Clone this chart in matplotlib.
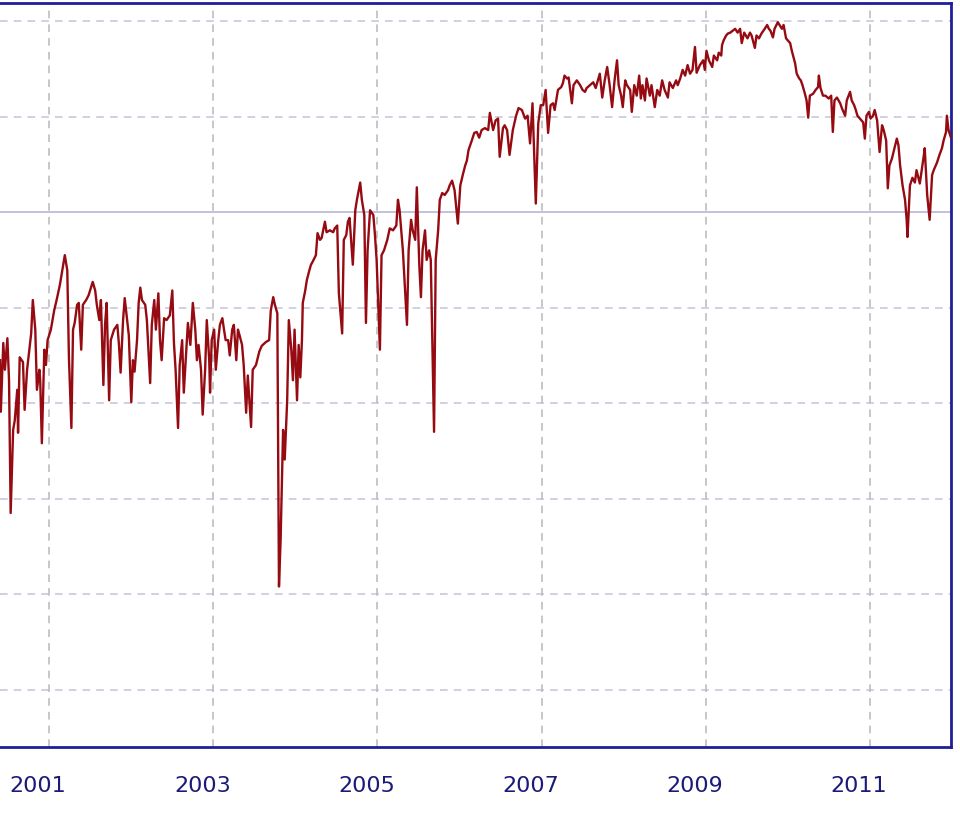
import matplotlib
matplotlib.use("Agg")
import matplotlib.pyplot as plt
import matplotlib.transforms as mtransforms

# weekly readings, decimal year -> index value (gridlines every 10 units)
years = [
    2000.40, 2000.41, 2000.44, 2000.46, 2000.49, 2000.51, 2000.53, 2000.56, 2000.58, 2000.61,
    2000.62, 2000.64, 2000.68, 2000.70, 2000.73, 2000.75, 2000.78, 2000.80, 2000.83, 2000.85,
    2000.88, 2000.89, 2000.91, 2000.94, 2000.96, 2000.98, 2001.02, 2001.06, 2001.09, 2001.13,
    2001.17, 2001.19, 2001.22, 2001.24, 2001.27, 2001.29, 2001.31, 2001.34, 2001.36, 2001.39,
    2001.41, 2001.45, 2001.48, 2001.53, 2001.56, 2001.58, 2001.61, 2001.63, 2001.66, 2001.68,
    2001.70, 2001.73, 2001.75, 2001.79, 2001.83, 2001.85, 2001.87, 2001.90, 2001.92, 2001.95,
    2001.97, 2002.00, 2002.02, 2002.04, 2002.07, 2002.09, 2002.11, 2002.13, 2002.17, 2002.19,
    2002.23, 2002.25, 2002.28, 2002.30, 2002.33,
    2002.35, 2002.37, 2002.40, 2002.43, 2002.47, 2002.50, 2002.52, 2002.54, 2002.57, 2002.59,
    2002.62, 2002.64, 2002.67, 2002.69, 2002.72, 2002.75, 2002.78, 2002.80, 2002.82, 2002.85,
    2002.87, 2002.90, 2002.92, 2002.95, 2002.96, 2002.98, 2003.01, 2003.03, 2003.06, 2003.08,
    2003.11, 2003.13, 2003.15, 2003.18, 2003.20, 2003.23, 2003.25, 2003.28, 2003.30, 2003.32,
    2003.35, 2003.37, 2003.40, 2003.42, 2003.46, 2003.48, 2003.52, 2003.56, 2003.59, 2003.64,
    2003.68, 2003.70, 2003.73, 2003.75, 2003.78, 2003.80, 2003.82, 2003.85, 2003.87, 2003.90,
    2003.92, 2003.95, 2003.97, 2003.99, 2004.02, 2004.04,
    2004.06, 2004.08, 2004.09, 2004.12, 2004.14, 2004.17, 2004.19, 2004.21, 2004.25, 2004.27,
    2004.30, 2004.32, 2004.36, 2004.38, 2004.42, 2004.46, 2004.48, 2004.51, 2004.53, 2004.57,
    2004.59, 2004.62, 2004.64, 2004.66, 2004.70, 2004.73, 2004.75, 2004.79, 2004.81, 2004.84,
    2004.86, 2004.88, 2004.91, 2004.95, 2004.97, 2004.99, 2005.03, 2005.05, 2005.08, 2005.12,
    2005.15, 2005.19, 2005.23, 2005.25, 2005.27, 2005.31, 2005.33, 2005.36, 2005.38, 2005.41,
    2005.43, 2005.46, 2005.48, 2005.51, 2005.53, 2005.55, 2005.58, 2005.60, 2005.63, 2005.65,
    2005.69, 2005.71, 2005.74, 2005.76, 2005.79, 2005.82, 2005.86, 2005.88, 2005.91, 2005.94,
    2005.98, 2006.01, 2006.04, 2006.07,
    2006.09, 2006.11, 2006.15, 2006.18, 2006.21, 2006.24, 2006.27, 2006.31, 2006.35, 2006.37,
    2006.41, 2006.44, 2006.47, 2006.49, 2006.53, 2006.55, 2006.58, 2006.61, 2006.65, 2006.69,
    2006.72, 2006.76, 2006.80, 2006.83, 2006.86, 2006.89, 2006.93, 2006.96, 2006.99, 2007.02,
    2007.05, 2007.08, 2007.11, 2007.14, 2007.16, 2007.20, 2007.24, 2007.26, 2007.28, 2007.31,
    2007.33, 2007.37, 2007.39, 2007.43, 2007.47, 2007.50, 2007.53, 2007.55, 2007.59, 2007.63,
    2007.66, 2007.71, 2007.74, 2007.77, 2007.80, 2007.83, 2007.86, 2007.89, 2007.92, 2007.94,
    2007.97, 2007.99, 2008.02, 2008.04, 2008.08, 2008.10, 2008.13, 2008.16, 2008.19, 2008.21,
    2008.23,
    2008.26, 2008.28, 2008.32, 2008.34, 2008.38, 2008.41, 2008.44, 2008.47, 2008.50, 2008.54,
    2008.56, 2008.60, 2008.64, 2008.66, 2008.69, 2008.72, 2008.75, 2008.78, 2008.81, 2008.84,
    2008.87, 2008.89, 2008.93, 2008.97, 2008.99, 2009.01, 2009.04, 2009.08, 2009.10, 2009.14,
    2009.16, 2009.19, 2009.20, 2009.22, 2009.25, 2009.27, 2009.30, 2009.33, 2009.36, 2009.39,
    2009.42, 2009.44, 2009.47, 2009.49, 2009.51, 2009.54, 2009.56, 2009.60, 2009.62, 2009.65,
    2009.68, 2009.72, 2009.75, 2009.77, 2009.79, 2009.82, 2009.84, 2009.88, 2009.90, 2009.93,
    2009.95, 2009.98, 2010.00, 2010.03, 2010.05, 2010.09, 2010.11, 2010.14, 2010.16, 2010.18,
    2010.21, 2010.23, 2010.25, 2010.27, 2010.31, 2010.34, 2010.37,
    2010.38, 2010.40, 2010.43, 2010.46, 2010.50, 2010.53, 2010.55, 2010.57, 2010.60, 2010.64,
    2010.66, 2010.70, 2010.72, 2010.76, 2010.78, 2010.81, 2010.83, 2010.85, 2010.88, 2010.92,
    2010.94, 2010.96, 2010.99, 2011.01, 2011.04, 2011.06, 2011.09, 2011.12, 2011.15, 2011.17,
    2011.20, 2011.22, 2011.24, 2011.27, 2011.31, 2011.33, 2011.35, 2011.37, 2011.40, 2011.43,
    2011.45, 2011.46, 2011.49, 2011.52, 2011.55, 2011.57, 2011.61, 2011.63, 2011.66, 2011.67,
    2011.70, 2011.73, 2011.76, 2011.78, 2011.82, 2011.85, 2011.88, 2011.90, 2011.93, 2011.94,
    2011.96, 2011.99,
]

values = [
    44.5, 39.1, 46.3, 43.5, 46.8, 42.4, 28.5, 37.2, 38.2, 41.4,
    36.9, 44.8, 44.3, 39.3, 43.5, 45.0, 47.3, 50.8, 47.7, 41.4,
    43.5, 42.4, 35.8, 45.6, 44.0, 46.6, 47.7, 49.7, 50.8, 52.4,
    54.5, 55.5, 53.9, 44.8, 37.4, 47.7, 48.4, 50.3, 50.5, 45.6,
    50.3, 50.8, 51.3, 52.7, 51.8, 50.3, 48.7, 50.8, 41.9, 48.2,
    50.5, 40.3, 46.6, 47.7, 48.2, 46.1, 43.2, 48.7, 51.0, 48.7,
    47.1, 40.1, 44.5, 43.3, 46.6, 50.5, 52.1, 50.8, 50.3, 48.7,
    42.1, 48.2, 50.8, 47.7, 51.5,
    46.6, 44.5, 48.9, 48.7, 49.2, 51.8, 46.3, 43.5, 37.4, 44.0,
    46.6, 41.1, 45.6, 48.4, 46.1, 50.5, 47.7, 44.5, 46.1, 43.5,
    38.8, 43.5, 48.7, 44.5, 41.1, 46.6, 47.7, 43.5, 46.6, 48.2,
    48.9, 47.7, 46.6, 46.6, 45.0, 47.7, 48.2, 44.5, 47.7, 47.1,
    46.1, 44.0, 39.0, 42.9, 37.5, 43.5, 44.0, 45.4, 46.0, 46.4,
    46.6, 49.7, 51.1, 50.3, 49.4, 20.8, 25.7, 37.2, 34.1, 40.3,
    48.7, 45.6, 42.4, 47.7, 40.3, 46.1,
    42.7, 46.6, 50.5, 51.8, 52.9, 53.9, 54.5, 54.8, 55.5, 57.8,
    57.1, 57.3, 59.0, 57.9, 58.1, 57.9, 58.3, 58.6, 51.5, 47.3,
    57.1, 57.6, 59.0, 59.4, 54.5, 60.2, 61.3, 63.1, 61.3, 59.7,
    48.4, 56.0, 60.2, 59.7, 57.6, 55.0, 45.6, 55.5, 56.0, 57.1,
    58.3, 58.1, 58.6, 61.3, 60.2, 56.0, 52.9, 48.2, 56.0, 59.2,
    58.1, 57.1, 62.6, 54.5, 51.1, 56.0, 58.1, 55.0, 56.0, 55.0,
    37.0, 55.0, 58.1, 61.3, 62.0, 61.8, 62.3, 62.8, 63.3, 62.3,
    58.8, 62.8, 63.9, 64.9,
    65.4, 66.5, 67.5, 68.3, 68.4, 67.8, 68.6, 68.8, 68.6, 70.4,
    68.6, 69.6, 69.8, 65.8, 68.8, 69.1, 68.6, 66.0, 68.6, 70.1,
    70.9, 70.7, 69.8, 70.1, 67.2, 71.4, 60.9, 69.3, 71.2, 71.2,
    72.8, 68.3, 71.2, 71.4, 70.7, 72.8, 73.1, 73.5, 74.3, 74.0,
    74.1, 71.4, 73.3, 73.8, 73.3, 72.8, 72.6, 73.0, 73.3, 73.6,
    73.0, 74.5, 72.0, 73.8, 75.2, 73.3, 71.0, 73.8, 75.9, 73.3,
    72.2, 71.0, 73.8, 73.3, 72.8, 70.5, 73.3, 72.2, 74.3, 71.9,
    73.3,
    71.7, 74.0, 72.2, 73.3, 71.0, 72.8, 72.2, 73.8, 72.8, 72.0,
    73.6, 73.0, 73.8, 73.3, 74.0, 74.9, 74.3, 75.4, 74.5, 74.9,
    77.3, 74.6, 75.4, 75.9, 74.9, 76.9, 75.9, 75.2, 76.4, 75.9,
    76.7, 76.4, 77.5, 78.0, 78.5, 78.7, 78.8, 79.0, 79.2, 78.8,
    79.2, 77.7, 78.8, 78.5, 78.2, 78.8, 78.5, 77.2, 78.5, 78.2,
    78.7, 79.2, 79.6, 79.2, 79.0, 78.3, 79.2, 79.9, 79.6, 79.2,
    79.6, 78.2, 78.0, 77.7, 76.9, 75.6, 74.5, 74.0, 73.8, 73.3,
    72.4, 71.7, 69.9, 72.2, 72.4, 72.8, 73.1,
    74.3, 73.0, 72.2, 72.2, 71.9, 72.2, 68.4, 71.7, 72.0, 71.4,
    70.9, 70.1, 71.7, 72.6, 71.7, 71.2, 70.7, 70.1, 69.8, 69.4,
    67.7, 70.1, 70.5, 69.8, 70.1, 70.7, 69.6, 66.3, 69.1, 68.6,
    67.5, 62.5, 64.9, 65.6, 67.0, 67.7, 67.0, 64.9, 62.8, 61.3,
    59.2, 57.4, 62.8, 63.6, 63.1, 64.4, 63.0, 64.2, 66.0, 66.7,
    61.8, 59.2, 63.9, 64.4, 65.2, 66.0, 66.7, 67.5, 68.4, 70.1,
    68.6, 67.8,
]

tick_years = [2001, 2003, 2005, 2007, 2009, 2011]
dashed_levels = [10, 20, 30, 40, 50, 70, 80]
ref_level = 60

navy = "#1e1e9a"

fig = plt.figure(figsize=(9.6, 8.16), dpi=100)
ax = fig.add_axes([0.0, 0.0846, 0.9906, 0.9117])

for lvl in dashed_levels:
    ax.axhline(lvl, color="#c4c4d8", lw=1.1, ls=(0, (5, 4)), zorder=1)
ax.axhline(ref_level, color="#bcbcdc", lw=1.3, zorder=1)
for yr in tick_years:
    ax.axvline(yr, color="#b8b8bc", lw=1.1, ls=(0, (5, 4)), zorder=1)

ax.plot(years, values, color="#960a12", lw=1.7, zorder=3)

ax.set_xlim(2000.40, 2011.99)
ax.set_ylim(4.0, 81.9)

ax.set_xticks(tick_years)
ax.set_xticklabels([str(y) for y in tick_years])
ax.set_yticks([])
ax.tick_params(axis="x", length=0, pad=21, labelsize=16, labelcolor="#1a1a78")

offset = mtransforms.ScaledTranslation(-11 / 100, 0, fig.dpi_scale_trans)
for lab in ax.get_xticklabels():
    lab.set_transform(lab.get_transform() + offset)

ax.spines["left"].set_visible(False)
for side in ["top", "right", "bottom"]:
    ax.spines[side].set_color(navy)
    ax.spines[side].set_linewidth(2.0)

fig.savefig("out.png", dpi=100)
